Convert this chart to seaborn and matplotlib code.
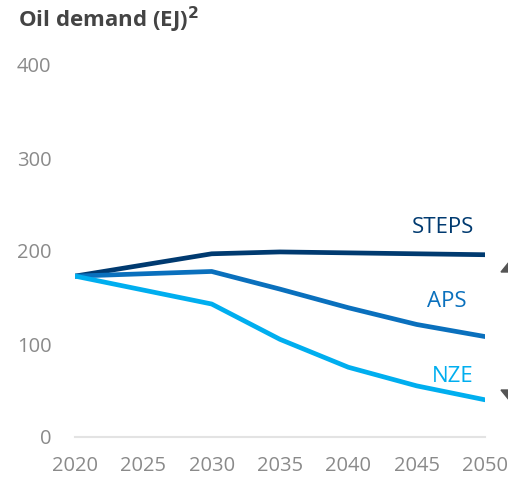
import matplotlib
matplotlib.use("Agg")
import matplotlib.pyplot as plt
import seaborn as sns
import pandas as pd
from matplotlib.patches import Polygon

years = [2020, 2030, 2035, 2040, 2045, 2050]
steps = [173, 197, 199, 198, 197, 196]
aps = [173, 178, 159, 139, 121, 108]
nze = [173, 143, 105, 75, 55, 40]
scenarios = ["STEPS", "APS", "NZE"]
colors = ["#003a70", "#0a70bd", "#00aeef"]
x_ticks = [2020, 2025, 2030, 2035, 2040, 2045, 2050]
y_ticks = [0, 100, 200, 300, 400]

df = pd.DataFrame({"year": years * 3,
                   "demand": steps + aps + nze,
                   "scenario": [s for s in scenarios for _ in years]})

sns.set_style("white")
plt.rcParams["font.family"] = ["Open Sans", "DejaVu Sans"]

fig = plt.figure(figsize=(5.08, 4.8), dpi=100)
ax = fig.add_axes([75 / 508, 43 / 480, 410 / 508, 372 / 480])
sns.lineplot(data=df, x="year", y="demand", hue="scenario", palette=colors,
             linewidth=3.4, legend=False, ax=ax)

ax.set_xlim(2020, 2050)
ax.set_ylim(0, 400)
ax.set_xticks(x_ticks)
ax.set_yticks(y_ticks)
ax.set_xlabel("")
ax.set_ylabel("")
for s in ["top", "right", "left"]:
    ax.spines[s].set_visible(False)
ax.spines["bottom"].set_color("#e3e3e3")
ax.spines["bottom"].set_linewidth(1.5)
ax.tick_params(axis="both", length=0, labelsize=14.5, labelcolor="#8a8a8a")
ax.tick_params(axis="x", pad=14)
ax.tick_params(axis="y", pad=17)

# scenario labels
ax.text(2046.9, 225, "STEPS", color=colors[0], fontsize=16, ha="center", va="center")
ax.text(2047.2, 146, "APS", color=colors[1], fontsize=16, ha="center", va="center")
ax.text(2047.65, 65, "NZE", color=colors[2], fontsize=16, ha="center", va="center")

fig.text(18 / 508, 1 - 20 / 480, "Oil demand (EJ)$^{\\mathbf{2}}$", fontsize=16,
         fontweight="bold", color="#444444", ha="left", va="center")

# gray arrow heads cut at right edge
fig.patches.append(Polygon([[501 / 508, 1 - 272 / 480], [514 / 508, 1 - 256 / 480],
                            [527 / 508, 1 - 272 / 480]], closed=True,
                           transform=fig.transFigure, color="#555555"))
fig.patches.append(Polygon([[501 / 508, 1 - 390 / 480], [514 / 508, 1 - 406 / 480],
                            [527 / 508, 1 - 390 / 480]], closed=True,
                           transform=fig.transFigure, color="#555555"))

fig.savefig("out.png", dpi=100)
